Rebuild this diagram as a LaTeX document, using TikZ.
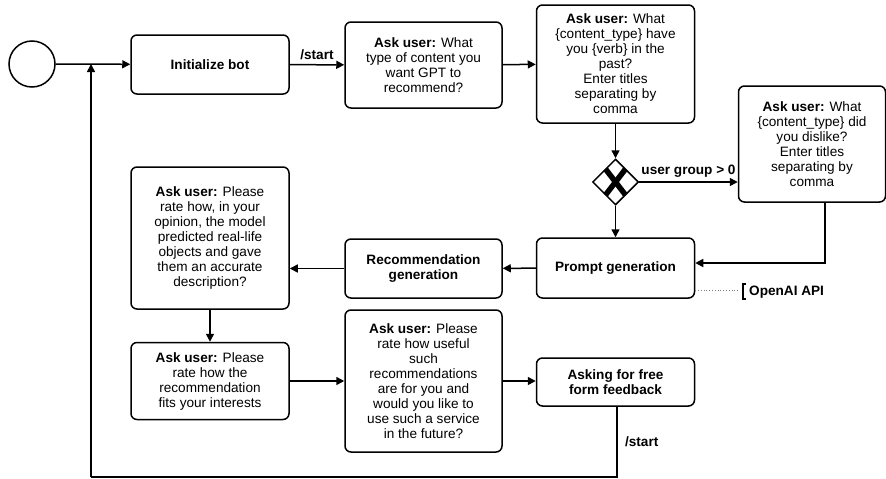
\documentclass[tikz,border=0pt]{standalone}
\usepackage{fontspec}
\setmainfont{Liberation Sans}
\usetikzlibrary{arrows.meta,shapes.geometric,calc}
\begin{document}
\begin{tikzpicture}[x=1pt,y=-1pt,
  every node/.style={font=\fontsize{13.6}{15}\selectfont},
  box/.style={draw, line width=1.5pt, rounded corners=6pt, align=center, inner sep=0pt},
  flow/.style={line width=1.5pt, -{Triangle[length=8pt,width=8pt]}},
  plain/.style={line width=1.5pt},
  lbl/.style={font=\fontsize{13.6}{15}\selectfont\bfseries}]
\useasboundingbox (0,0) rectangle (886,479);

\node[draw, circle, line width=1.5pt, minimum size=46pt, inner sep=0pt] (start) at (32,64) {};
\node[box, minimum width=158pt, minimum height=59pt] (init) at (210,64.5) {\textbf{Initialize bot}};
\node[box, minimum width=157pt, minimum height=86pt] (ask1) at (423.5,65)
  {\textbf{Ask user:} What\\type of content you\\want GPT to\\recommend?};
\node[box, minimum width=158pt, minimum height=118pt] (ask2) at (615.5,64)
  {\textbf{Ask user:} What\\\{content\_type\} have\\you \{verb\} in the\\past?\\Enter titles\\separating by\\comma};
\node[draw, diamond, line width=1.5pt, minimum size=46pt, inner sep=0pt, fill=white] (dia) at (615.5,182) {};
\draw[line width=5.5pt] ($(dia)+(-10,-13)$) -- ($(dia)+(10,13)$);
\draw[line width=5.5pt] ($(dia)+(10,-13)$) -- ($(dia)+(-10,13)$);
\node[box, minimum width=147pt, minimum height=116pt] (ask3) at (812,144)
  {\textbf{Ask user:} What\\\{content\_type\} did\\you dislike?\\Enter titles\\separating by\\comma};
\node[box, minimum width=158pt, minimum height=60pt] (prompt) at (615.5,268) {\textbf{Prompt generation}};
\node[box, minimum width=157pt, minimum height=59pt] (recgen) at (423.5,268.5) {\textbf{Recommendation}\\\textbf{generation}};
\node[box, minimum width=158pt, minimum height=142pt] (rate1) at (210,238)
  {\textbf{Ask user:} Please\\rate how, in your\\opinion, the model\\predicted real-life\\objects and gave\\them an accurate\\description?};
\node[box, minimum width=158pt, minimum height=77pt] (rate2) at (210,381)
  {\textbf{Ask user:} Please\\rate how the\\recommendation\\fits your interests};
\node[box, minimum width=157pt, minimum height=142pt] (rate3) at (423.5,381)
  {\textbf{Ask user:} Please\\rate how useful\\such\\recommendations\\are for you and\\would you like to\\use such a service\\in the future?};
\node[box, minimum width=158pt, minimum height=48pt] (free) at (615.5,382)
  {\textbf{Asking for free}\\\textbf{form feedback}};

\node[lbl, anchor=west, inner sep=0pt] (api) at (749,292) {OpenAI API};
\draw[line width=2pt] ($(api.west)+(-3,-8)$) -- ($(api.west)+(-6,-8)$) -- ($(api.west)+(-6,7)$) -- ($(api.west)+(-3,7)$);
\draw[dotted, gray, line width=0.8pt] (prompt.east |- 0,290) -- (740,290);

\draw[flow] (start) -- (init);
\draw[flow] (init) -- node[lbl, above=1pt] (l1) {/start} (ask1);
\draw[flow] (ask1) -- (ask2);
\draw[flow] (ask2) -- (dia);
\draw[flow] (dia) -- node[lbl, above=1pt] (l2) {user group > 0} (ask3.west |- dia);
\draw[flow] (dia) -- (prompt);
\draw[flow] (ask3.south -| 825,0) |- (prompt.east |- 0,263);
\draw[flow] (prompt) -- (recgen);
\draw[flow] (recgen) -- (rate1.east |- recgen);
\draw[flow] (rate1) -- (rate2);
\draw[flow] (rate2) -- (rate3.west |- rate2);
\draw[flow] (rate3.east |- rate2) -- (free.west |- rate2);
\coordinate (c1) at (617,477);
\coordinate (c2) at (91,477);
\draw[plain] (free.south -| c1) -- node[lbl, right=4pt] (l3) {/start} (c1) -- (c2);
\draw[flow] (c2) -- (c2 |- start);
\end{tikzpicture}
\end{document}
